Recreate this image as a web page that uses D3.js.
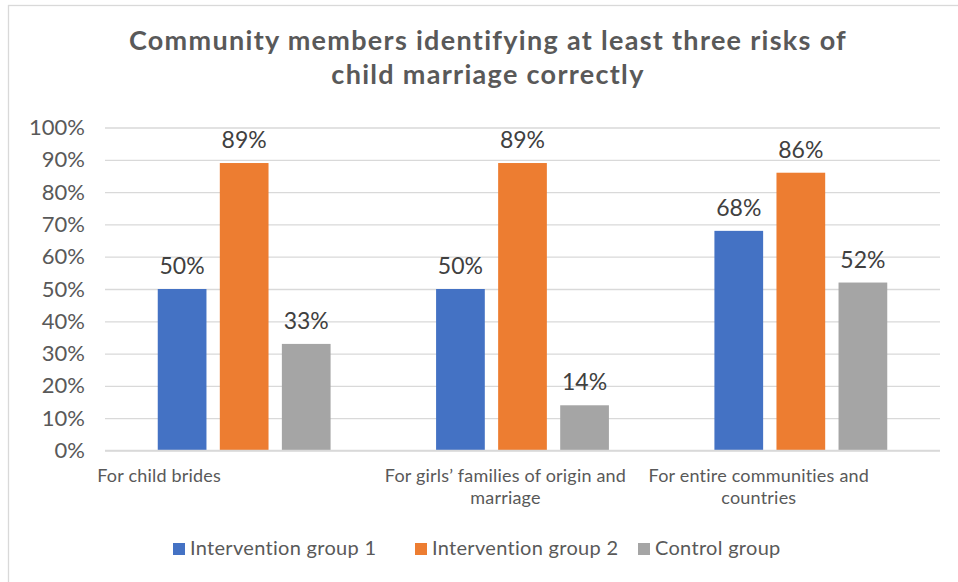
<!DOCTYPE html>
<html>
<head>
<meta charset="utf-8">
<script src="https://cdn.jsdelivr.net/npm/d3@7"></script>
<style>
  html, body { margin: 0; padding: 0; background: #fff; }
  svg { display: block; }
</style>
</head>
<body>
<svg id="chart" width="958" height="582"></svg>
<script>
// ---- data ----
const categories = [
  "For child brides",
  "For girls’ families of origin and marriage",
  "For entire communities and countries"
];
const categoryLines = [
  ["For child brides"],
  ["For girls’ families of origin and", "marriage"],
  ["For entire communities and", "countries"]
];
const seriesNames = ["Intervention group 1", "Intervention group 2", "Control group"];
const interventionGroup1 = [50, 50, 68];
const interventionGroup2 = [89, 89, 86];
const controlGroup = [33, 14, 52];
const yTickValues = [0, 10, 20, 30, 40, 50, 60, 70, 80, 90, 100];
const titleLines = ["Community members identifying at least three risks of", "child marriage correctly"];

// ---- layout / style ----
const colors = ["#4472C4", "#ED7D31", "#A5A5A5"];
const FONT = "Lato, 'Open Sans', sans-serif";
const labelShift = [-85, -17, -42];

const seriesValues = [interventionGroup1, interventionGroup2, controlGroup];
const svg = d3.select("#chart");

// border
svg.append("rect").attr("x", 8.5).attr("y", 5.5).attr("width", 980).attr("height", 600)
  .attr("fill", "none").attr("stroke", "#d9d9d9").attr("stroke-width", 1.3);

const x0 = d3.scaleBand().domain(categories).range([105, 940]).paddingInner(0).paddingOuter(0);
const x1 = d3.scaleBand().domain(seriesNames).range([0, x0.bandwidth()]).paddingInner(0.215).paddingOuter(0.85);
const y = d3.scaleLinear().domain([0, 100]).range([450.5, 127.5]);

// title
svg.append("g").selectAll("text").data(titleLines).join("text")
  .attr("x", 488).attr("y", (d, i) => 50 + i * 34)
  .attr("text-anchor", "middle")
  .attr("font-family", FONT).attr("font-weight", "bold").attr("font-size", 27)
  .attr("letter-spacing", 1.3)
  .attr("fill", "#595959").text(d => d);

// gridlines + y axis
const yAxis = d3.axisLeft(y).tickValues(yTickValues).tickFormat(d => d + "%").tickSize(-(940 - 105)).tickPadding(20);
const gy = svg.append("g").attr("transform", "translate(105,0)").call(yAxis);
gy.select(".domain").remove();
gy.selectAll(".tick line").attr("stroke", "#d9d9d9").attr("stroke-width", 1.3);
gy.selectAll(".tick text").attr("font-family", FONT).attr("font-size", 22).attr("fill", "#595959");

// bars
const groups = svg.append("g").selectAll("g").data(categories).join("g")
  .attr("transform", d => `translate(${x0(d)},0)`);
groups.selectAll("rect").data((c, ci) => seriesNames.map((s, si) => ({ s, si, v: seriesValues[si][ci] })))
  .join("rect")
  .attr("x", d => x1(d.s)).attr("width", x1.bandwidth())
  .attr("y", d => y(d.v)).attr("height", d => y(0) - y(d.v))
  .attr("fill", d => colors[d.si]);
groups.selectAll("text.val").data((c, ci) => seriesNames.map((s, si) => ({ s, si, v: seriesValues[si][ci] })))
  .join("text").attr("class", "val")
  .attr("x", d => x1(d.s) + x1.bandwidth() / 2).attr("y", d => y(d.v) - 15)
  .attr("text-anchor", "middle")
  .attr("font-family", FONT).attr("font-size", 23).attr("fill", "#404040")
  .text(d => d.v + "%");

// x axis line
svg.append("line").attr("x1", 105).attr("x2", 940).attr("y1", y(0)).attr("y2", y(0))
  .attr("stroke", "#d9d9d9").attr("stroke-width", 1.3);

// category labels
categories.forEach((c, ci) => {
  const cx = x0(c) + x0.bandwidth() / 2 + labelShift[ci];
  svg.append("g").selectAll("text").data(categoryLines[ci]).join("text")
    .attr("x", cx).attr("y", (d, i) => 482 + i * 22)
    .attr("text-anchor", "middle")
    .attr("font-family", FONT).attr("font-size", 18).attr("letter-spacing", 0.2).attr("fill", "#595959")
    .text(d => d);
});

// legend
const legendX = [173, 415, 638];
const lg = svg.append("g").selectAll("g").data(seriesNames).join("g")
  .attr("transform", (d, i) => `translate(${legendX[i]},543)`);
lg.append("rect").attr("width", 12).attr("height", 12).attr("fill", (d, i) => colors[i]);
lg.append("text").attr("x", 17).attr("y", 12).attr("font-family", FONT).attr("font-size", 20)
  .attr("letter-spacing", 0.3)
  .attr("fill", "#595959").text(d => d);
</script>
</body>
</html>
